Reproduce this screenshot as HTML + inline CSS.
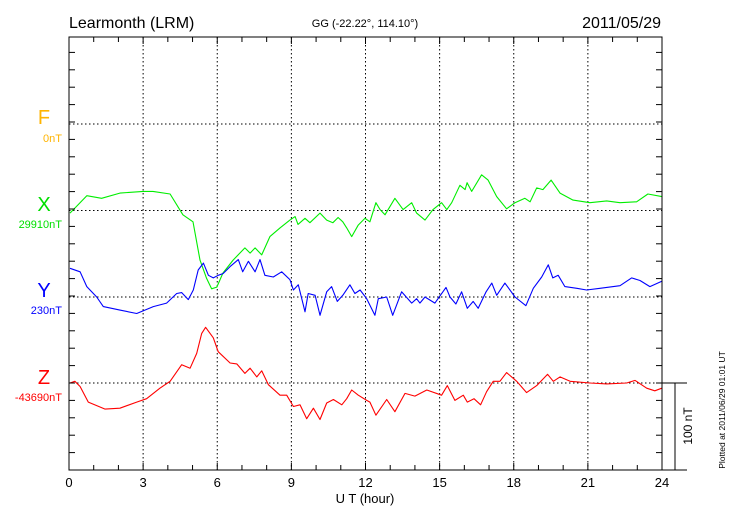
<!DOCTYPE html>
<html><head><meta charset="utf-8"><style>
body{margin:0;background:#fff}
svg{display:block;font-family:"Liberation Sans",sans-serif}
</style></head><body>
<svg id="chart" width="730" height="520" viewBox="0 0 730 520" xmlns="http://www.w3.org/2000/svg">
<text x="69" y="28" font-size="16">Learmonth (LRM)</text>
<text x="365" y="27" font-size="11" text-anchor="middle">GG (-22.22°, 114.10°)</text>
<text x="661" y="28" font-size="16" text-anchor="end">2011/05/29</text>
<g text-anchor="middle">
<text x="44" y="124" font-size="20" fill="#ffb400">F</text>
<text x="62" y="142" font-size="11" fill="#ffb400" text-anchor="end">0nT</text>
<text x="44" y="211" font-size="20" fill="#00e000">X</text>
<text x="62" y="228" font-size="11" fill="#00e000" text-anchor="end">29910nT</text>
<text x="44" y="297" font-size="20" fill="#0000ff">Y</text>
<text x="62" y="314" font-size="11" fill="#0000ff" text-anchor="end">230nT</text>
<text x="44" y="384" font-size="20" fill="#ff0000">Z</text>
<text x="62" y="401" font-size="11" fill="#ff0000" text-anchor="end">-43690nT</text>
</g>
<text x="365" y="503" font-size="13" text-anchor="middle">U T (hour)</text>
<text transform="translate(692,426) rotate(-90)" font-size="12" text-anchor="middle">100 nT</text>
<text transform="translate(725,410) rotate(-90)" font-size="8.5" text-anchor="middle">Plotted at 2011/06/29 01:01  UT</text>
<g id="grid"></g>
<g id="series"></g>
<g id="axes"></g>
</svg>
<script>
const xHours=[0.04,0.72,1.32,2.06,3.0,3.4,4.09,4.61,5.02,5.30,5.57,5.77,5.98,6.23,6.64,7.12,7.33,7.53,7.80,8.13,8.54,8.94,9.15,9.27,9.55,9.75,10.16,10.43,10.68,10.89,11.08,11.24,11.44,11.70,11.98,12.18,12.42,12.59,12.79,13.19,13.52,13.87,14.07,14.41,14.73,15.08,15.29,15.49,15.82,16.03,16.11,16.30,16.70,16.96,17.31,17.71,18.05,18.45,18.66,18.93,19.18,19.51,19.87,20.40,21.08,21.76,22.30,22.97,23.43,23.99];
const xValues=[-3,17,14,20,22,22,19,-5,-13,-57,-78,-90,-88,-72,-57,-43,-49,-43,-51,-30,-20,-11,-7,-16,-9,-14,-3,-11,-14,-8,-13,-20,-30,-17,-9,-13,9,1,-5,14,1,9,-3,-11,1,9,1,9,29,24,32,22,41,35,16,2,9,14,10,26,24,35,20,12,9,11,9,10,19,16];
const yHours=[0.04,0.45,0.72,1.12,1.39,2.06,2.74,3.41,3.95,4.36,4.56,4.83,5.03,5.23,5.44,5.64,5.84,6.04,6.24,6.52,6.85,7.03,7.26,7.53,7.73,7.93,8.27,8.61,8.94,9.08,9.28,9.55,9.68,9.96,10.16,10.43,10.63,10.86,11.08,11.37,11.57,11.78,12.05,12.38,12.52,12.86,13.10,13.46,13.87,14.07,14.20,14.41,14.81,15.26,15.42,15.66,15.89,16.12,16.36,16.56,16.88,17.11,17.31,17.64,18.05,18.49,18.79,19.13,19.40,19.58,19.80,20.07,20.55,20.95,21.49,22.30,22.77,23.11,23.51,23.99];
const yValues=[33,29,12,0,-11,-15,-19,-11,-7,4,5,-3,8,31,39,25,22,25,27,35,43,29,41,29,43,25,23,29,20,8,14,-17,4,2,-21,6,12,-5,2,14,4,8,-2,-21,-2,0,-21,6,-7,-2,-7,0,-7,11,0,-8,6,-13,-5,-13,6,16,2,16,0,-10,10,23,37,22,25,12,10,8,10,13,22,19,12,18];
const zHours=[0.04,0.24,0.45,0.78,1.46,2.06,2.74,3.14,3.68,4.09,4.56,4.90,5.17,5.37,5.53,5.84,6.04,6.52,6.79,7.12,7.33,7.60,7.80,8.07,8.54,8.81,9.08,9.35,9.62,9.89,10.16,10.43,10.70,11.04,11.24,11.44,11.71,12.05,12.18,12.42,12.86,13.19,13.60,14.00,14.48,15.08,15.31,15.62,15.96,16.12,16.39,16.66,16.90,17.17,17.44,17.71,18.12,18.52,18.93,19.37,19.60,19.87,20.28,21.08,21.76,22.57,22.91,23.38,23.71,23.99];
const zValues=[0,2,-4,-22,-30,-29,-22,-18,-6,2,21,17,34,57,64,52,36,23,22,11,17,7,14,-2,-14,-14,-27,-25,-41,-29,-42,-23,-19,-25,-18,-8,-14,-20,-22,-37,-19,-33,-12,-15,-8,-14,-3,-20,-14,-22,-18,-25,-10,2,2,12,2,-11,-3,10,2,7,2,0,-1,0,3,-6,-9,-6];
const xTickLabels=["0","3","6","9","12","15","18","21","24"];

const NS="http://www.w3.org/2000/svg";
const L=69,R=662,T=37,B=470;
const pxPerNT=(B-383)/100;
const baseF=124,baseX=210.5,baseY=297,baseZ=383;
function sx(h){return L+h*(R-L)/24;}
function sy(base,v){return base-v*pxPerNT;}
function mk(tag,attrs,parent){const e=document.createElementNS(NS,tag);for(const k in attrs)e.setAttribute(k,attrs[k]);parent.appendChild(e);return e;}
const grid=document.getElementById('grid'),axes=document.getElementById('axes'),series=document.getElementById('series');
// vertical grid
for(let h=3;h<24;h+=3){
  const l=mk('line',{x1:sx(h),x2:sx(h),y1:T,y2:B,stroke:'#000','stroke-width':1,'stroke-dasharray':'1.5,2.5'},grid);
  
  
}
[baseF,baseX,baseY,baseZ].forEach(y=>{
  const l=mk('line',{x1:L,x2:R,y1:y,y2:y,stroke:'#000','stroke-width':1,'stroke-dasharray':'1.5,2.5'},grid);
  
  
});
// axes frame
const frame=mk('rect',{x:L,y:T,width:R-L,height:B-T,fill:'none',stroke:'#000','stroke-width':1},axes);


for(let h=0;h<=24;h++){
  const len=h%3===0?7:5;
  mk('line',{x1:sx(h),x2:sx(h),y1:B,y2:B-len,stroke:'#000'},axes);
  mk('line',{x1:sx(h),x2:sx(h),y1:T,y2:T+len,stroke:'#000'},axes);
}
for(let v=0;v<=500;v+=20){
  const y=B-v*pxPerNT;
  if(y<T-0.5)break;
  mk('line',{x1:L,x2:L+6,y1:y,y2:y,stroke:'#000'},axes);
  mk('line',{x1:R,x2:R-6,y1:y,y2:y,stroke:'#000'},axes);
}
xTickLabels.forEach((t,i)=>{
  const tx=mk('text',{x:sx(i*3),y:487,'font-size':13,'text-anchor':'middle'},axes);
  tx.textContent=t;
  
  
});
// scale bar
const sb=mk('g',{},axes);


mk('line',{x1:R,x2:687,y1:baseZ,y2:baseZ,stroke:'#000'},sb);
mk('line',{x1:R,x2:687,y1:B,y2:B,stroke:'#000'},sb);
mk('line',{x1:675,x2:675,y1:baseZ,y2:B,stroke:'#000'},sb);
// series
function draw(hours,vals,base,color,name){
  const d=hours.map((h,i)=>(i?'L':'M')+sx(h).toFixed(1)+','+sy(base,vals[i]).toFixed(1)).join('');
  const p=mk('path',{d:d,fill:'none',stroke:color,'stroke-width':1.1,'stroke-linejoin':'round'},series);
  
  
}
draw(xHours,xValues,baseX,'#00ee00','x-component-line');
draw(yHours,yValues,baseY,'#0000ff','y-component-line');
draw(zHours,zValues,baseZ,'#ff0000','z-component-line');
</script>
</body></html>
